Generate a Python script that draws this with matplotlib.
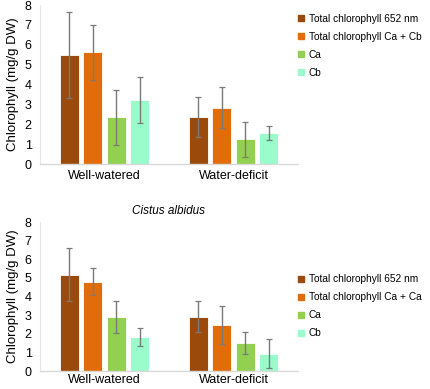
import numpy as np
import matplotlib.pyplot as plt
from matplotlib.lines import Line2D

plt.rcParams['font.family'] = ['Liberation Sans', 'DejaVu Sans']

grupos = ['Well-watered', 'Water-deficit']
cores = ['#9C4A0C', '#E36C0A', '#92D050', '#99FCCA']

# grafico de cima
series_cima = ['Total chlorophyll 652 nm', 'Total chlorophyll Ca + Cb', 'Ca', 'Cb']
valores_cima = [[5.5, 2.38], [5.62, 2.84], [2.35, 1.24], [3.23, 1.55]]
erros_cima = [[2.17, 1.02], [1.40, 1.03], [1.38, 0.90], [1.16, 0.35]]

# grafico de baixo (Cistus albidus)
series_baixo = ['Total chlorophyll 652 nm', 'Total chlorophyll Ca + Ca', 'Ca', 'Cb']
valores_baixo = [[5.18, 2.91], [4.79, 2.48], [2.91, 1.52], [1.85, 0.92]]
erros_baixo = [[1.41, 0.83], [0.72, 1.04], [0.85, 0.58], [0.48, 0.78]]

fig = plt.figure(figsize=(4.3, 3.89), dpi=100)
ax1 = fig.add_axes([0.093, 0.578, 0.6, 0.409])
ax2 = fig.add_axes([0.093, 0.046, 0.6, 0.383])


def fazer_grafico(ax, series, valores, erros, y_legenda, pad_x):
  x = np.arange(len(grupos))
  passo = 0.181
  for i in range(len(series)):
    pos = x + (i - 1.5) * passo
    ax.bar(pos, valores[i], width=0.145, color=cores[i], edgecolor='white',
           linewidth=0.6, zorder=2)
    ax.errorbar(pos, valores[i], yerr=erros[i], fmt='none', ecolor='#7a7a7a',
                elinewidth=1.0, capsize=2.5, capthick=0.9, zorder=3)
  ax.set_xlim(-0.5, 1.5)
  ax.set_ylim(0, 8)
  ax.set_yticks(range(0, 9))
  ax.set_xticks(x)
  ax.set_xticklabels(grupos, fontsize=9)
  ax.tick_params(axis='y', labelsize=9, length=0, pad=6)
  ax.tick_params(axis='x', length=0, pad=pad_x)
  ax.set_ylabel('Chlorophyll (mg/g DW)', fontsize=9.5, labelpad=4)
  for lado in ['top', 'right']:
    ax.spines[lado].set_visible(False)
  ax.spines['left'].set_color('#e6e6e6')
  ax.spines['bottom'].set_color('#d9d9d9')
  ax.spines['bottom'].set_linewidth(1.0)
  alcas = [Line2D([], [], marker='s', linestyle='none', markersize=5,
                  color=cores[i]) for i in range(len(series))]
  fig.legend(alcas, series, loc='upper left', bbox_to_anchor=(0.672, y_legenda),
             frameon=False, fontsize=7.3, handletextpad=0.05, labelspacing=0.78,
             handlelength=1.5, borderaxespad=0)


fazer_grafico(ax1, series_cima, valores_cima, erros_cima, 0.975, 4)
fazer_grafico(ax2, series_baixo, valores_baixo, erros_baixo, 0.305, 2)
ax2.set_title('Cistus albidus', fontsize=8.5, style='italic', pad=6)

plt.savefig('out.png', dpi=100)
